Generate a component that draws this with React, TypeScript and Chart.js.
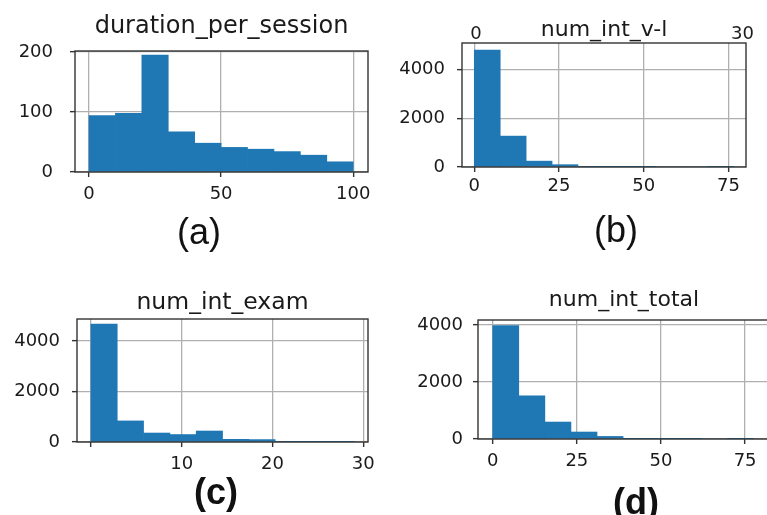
import React, { useEffect, useRef } from 'react';
import { Chart, registerables } from 'chart.js';

Chart.register(...registerables);

// ---------- data ----------
const aTitle = 'duration_per_session';
const aEdges = [0, 10, 20, 30, 40, 50, 60, 70, 80, 90, 100];
const aCounts = [94, 98, 195, 67, 48, 41, 38, 34, 28, 17];
const aXTicks = [0, 50, 100];
const aXTickLabels = ['0', '50', '100'];
const aYTicks = [0, 100, 200];
const aYTickLabels = ['0', '100', '200'];

const bTitle = 'num_int_v-l';
const bEdges = [0, 7.65, 15.3, 22.95, 30.6, 38.25, 45.9, 53.55, 61.2, 68.85, 76.5];
const bCounts = [4790, 1265, 240, 95, 6, 2, 1, 0, 0, 1];
const bXTicks = [0, 25, 50, 75];
const bXTickLabels = ['0', '25', '50', '75'];
const bYTicks = [0, 2000, 4000];
const bYTickLabels = ['0', '2000', '4000'];
const bTopLabels = ['0', '30'];

const cTitle = 'num_int_exam';
const cEdges = [0, 2.9, 5.8, 8.7, 11.6, 14.5, 17.4, 20.3, 23.2, 26.1, 29];
const cCounts = [4670, 835, 355, 295, 435, 105, 95, 3, 1, 1];
const cXTicks = [0, 10, 20, 30];
const cXTickLabels = ['', '10', '20', '30'];
const cYTicks = [0, 2000, 4000];
const cYTickLabels = ['0', '2000', '4000'];

const dTitle = 'num_int_total';
const dEdges = [0, 7.75, 15.5, 23.25, 31, 38.75, 46.5, 54.25, 62, 69.75, 77.5];
const dCounts = [3975, 1515, 595, 245, 90, 6, 2, 1, 0, 1];
const dXTicks = [0, 25, 50, 75];
const dXTickLabels = ['0', '25', '50', '75'];
const dYTicks = [0, 2000, 4000];
const dYTickLabels = ['0', '2000', '4000'];

const panelLabels = ['(a)', '(b)', '(c)', '(d)'];

// ---------- layout / style ----------
const FONT = 'DejaVu Sans';
const BAR = '#1f77b4';
const GRID = '#b0b0b0';
const SPINE = '#333333';
const TEXT = '#1a1a1a';
const Y_W = 70;
const TITLE_H = 40;
const X_H = 45;
const RIGHT_PAD = 25;

type Panel = {
  title: string;
  edges: number[];
  counts: number[];
  xTicks: number[];
  xLabels: string[];
  yTicks: number[];
  yLabels: string[];
  box: [number, number, number, number];
  xMin: number;
  xMax: number;
  yMax: number;
  titleSize: number;
  titleGap: number;
  yPad: number;
  xPad: number;
};

const panels: Panel[] = [
  { title: aTitle, edges: aEdges, counts: aCounts, xTicks: aXTicks, xLabels: aXTickLabels, yTicks: aYTicks, yLabels: aYTickLabels,
    box: [75, 51, 368, 172], xMin: -5.3, xMax: 105.6, yMax: 201.7, titleSize: 24, titleGap: 9.4, yPad: 17, xPad: 7 },
  { title: bTitle, edges: bEdges, counts: bCounts, xTicks: bXTicks, xLabels: bXTickLabels, yTicks: bYTicks, yLabels: bYTickLabels,
    box: [462, 43, 746, 167], xMin: -3.63, xMax: 80.2, yMax: 5077, titleSize: 22, titleGap: 0, yPad: 12, xPad: 4 },
  { title: cTitle, edges: cEdges, counts: cCounts, xTicks: cXTicks, xLabels: cXTickLabels, yTicks: cYTicks, yLabels: cYTickLabels,
    box: [77, 319, 368, 442], xMin: -1.53, xMax: 30.52, yMax: 4871, titleSize: 23.5, titleGap: 2.3, yPad: 12, xPad: 7 },
  { title: dTitle, edges: dEdges, counts: dCounts, xTicks: dXTicks, xLabels: dXTickLabels, yTicks: dYTicks, yLabels: dYTickLabels,
    box: [478, 320, 770, 439], xMin: -4.37, xMax: 82.4, yMax: 4175, titleSize: 22, titleGap: 6.1, yPad: 10, xPad: 7 },
];

const framePlugin = {
  id: 'frame',
  afterDraw(chart: any) {
    const { ctx, chartArea } = chart;
    const { left, top, right, bottom } = chartArea;
    ctx.save();
    ctx.strokeStyle = SPINE;
    ctx.lineWidth = 1.4;
    ctx.strokeRect(left, top, right - left, bottom - top);
    ctx.restore();
  },
};

function Hist({ p }: { p: Panel }) {
  const ref = useRef<HTMLCanvasElement>(null);
  const [L, T, R, B] = p.box;
  const left = L - Y_W;
  const top = T - TITLE_H;
  const width = R + RIGHT_PAD - left;
  const height = B + X_H - top;

  useEffect(() => {
    if (!ref.current) return;
    const tickFont = { family: FONT, size: 18, weight: 'normal' as const };
    const data = p.counts.map((c, i) => ({ x: (p.edges[i] + p.edges[i + 1]) / 2, y: c }));
    const chart = new Chart(ref.current, {
      type: 'bar',
      data: {
        datasets: [
          {
            data: data as any,
            backgroundColor: BAR,
            borderWidth: 0,
            barPercentage: 1,
            categoryPercentage: 1,
          },
        ],
      },
      options: {
        responsive: false,
        animation: false,
        devicePixelRatio: 1,
        layout: { padding: { left: 0, top: 0, right: RIGHT_PAD, bottom: 0 } },
        plugins: {
          legend: { display: false },
          tooltip: { enabled: false },
          title: {
            display: true,
            text: p.title,
            fullSize: false,
            color: TEXT,
            font: { family: FONT, size: p.titleSize, weight: 'normal' },
            padding: { top: TITLE_H - 1.2 * p.titleSize - p.titleGap, bottom: p.titleGap },
          },
        },
        scales: {
          x: {
            type: 'linear',
            min: p.xMin,
            max: p.xMax,
            offset: false,
            z: 1,
            grid: { offset: false, color: GRID, lineWidth: 1.3, tickLength: 5, tickColor: SPINE, tickWidth: 1.4 },
            border: { display: false },
            ticks: {
              autoSkip: false,
              maxRotation: 0,
              minRotation: 0,
              padding: p.xPad,
              color: TEXT,
              font: tickFont,
              callback: (_v: any, i: number) => p.xLabels[i],
            },
            afterBuildTicks: (s: any) => {
              s.ticks = p.xTicks.map((v) => ({ value: v }));
            },
            afterFit: (s: any) => {
              s.height = X_H;
            },
          },
          y: {
            type: 'linear',
            min: 0,
            max: p.yMax,
            z: 1,
            grid: { color: GRID, lineWidth: 1.3, tickLength: 5, tickColor: SPINE, tickWidth: 1.4 },
            border: { display: false },
            ticks: {
              padding: p.yPad,
              color: TEXT,
              font: tickFont,
              callback: (_v: any, i: number) => p.yLabels[i],
            },
            afterBuildTicks: (s: any) => {
              s.ticks = p.yTicks.map((v) => ({ value: v }));
            },
            afterFit: (s: any) => {
              s.width = Y_W;
            },
          },
        },
      } as any,
      plugins: [framePlugin],
    });
    return () => chart.destroy();
  }, []);

  return (
    <canvas
      ref={ref}
      width={width}
      height={height}
      style={{ position: 'absolute', left, top, width, height }}
    />
  );
}

const labelPos = [
  { x: 199, y: 232, bold: false },
  { x: 616, y: 230, bold: false },
  { x: 216, y: 492, bold: true },
  { x: 636, y: 502, bold: true },
];

const topLabelPos = [
  { x: 476, y: 24 },
  { x: 742.5, y: 24 },
];

export default function App() {
  return (
    <div
      style={{
        position: 'fixed',
        left: 0,
        top: 0,
        width: 767,
        height: 515,
        overflow: 'hidden',
        background: '#ffffff',
      }}
    >
      {panels.map((p, i) => (
        <Hist key={i} p={p} />
      ))}
      {bTopLabels.map((t, i) => (
        <div
          key={'t' + i}
          style={{
            position: 'absolute',
            left: topLabelPos[i].x,
            top: topLabelPos[i].y,
            transform: 'translateX(-50%)',
            fontFamily: FONT,
            fontSize: 18,
            lineHeight: '18px',
            color: TEXT,
            whiteSpace: 'nowrap',
          }}
        >
          {t}
        </div>
      ))}
      {panelLabels.map((t, i) => (
        <div
          key={'l' + i}
          style={{
            position: 'absolute',
            left: labelPos[i].x,
            top: labelPos[i].y,
            transform: 'translate(-50%, -50%)',
            fontFamily: 'Liberation Sans',
            fontSize: 36,
            lineHeight: 1,
            fontWeight: labelPos[i].bold ? 'bold' : 'normal',
            color: '#111',
            whiteSpace: 'nowrap',
          }}
        >
          {t}
        </div>
      ))}
    </div>
  );
}
